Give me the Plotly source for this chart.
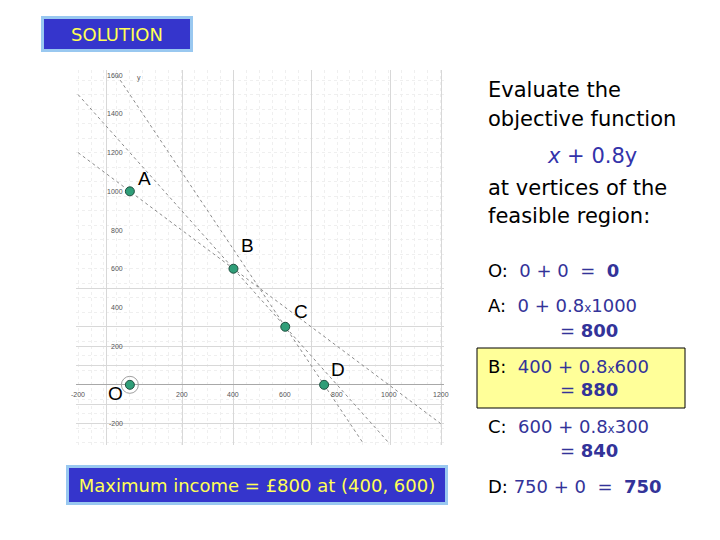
import plotly.graph_objects as go

# ---------------- data ----------------
vertex_names = ["O", "A", "B", "C", "D"]
vertex_x = [0, 0, 400, 600, 750]
vertex_y = [0, 1000, 600, 300, 0]
objective_values = [0, 800, 880, 840, 750]

# constraint boundary lines (endpoints)
line1_x = [-200, 1200]   # x + y = 1000
line1_y = [1200, -200]
line2_x = [-200, 1000]   # 3x + 2y = 2400
line2_y = [1500, -300]
line3_x = [-50, 900]     # 2x + y = 1500
line3_y = [1600, -300]

x_tick_labels = [-200, 200, 400, 600, 800, 1000, 1200]
y_tick_labels = [-200, 200, 400, 600, 800, 1000, 1200, 1400, 1600]

# ---------------- helpers ----------------
W, H = 720, 540
def px(x):
    return x / W
def py(y):
    return 1 - y / H

BLUE_TXT = "#333399"
FONT = "Liberation Sans"
TFONT = "DejaVu Sans"

fig = go.Figure()

for lx, ly in [(line1_x, line1_y), (line2_x, line2_y), (line3_x, line3_y)]:
    fig.add_trace(go.Scatter(x=lx, y=ly, mode="lines",
                             line=dict(color="#8a8a8a", width=1, dash="dot"),
                             hoverinfo="skip", showlegend=False))

# dotted ring around O
fig.add_trace(go.Scatter(x=vertex_x[:1], y=vertex_y[:1], mode="markers",
                         marker=dict(symbol="circle-open", size=17,
                                     color="#a0a0a0", line=dict(width=1)),
                         hoverinfo="skip", showlegend=False))

fig.add_trace(go.Scatter(x=vertex_x, y=vertex_y, mode="markers",
                         marker=dict(size=9, color="#2f9e78",
                                     line=dict(color="#1f4f3f", width=1)),
                         showlegend=False))

label_shift = {"O": (-14, -9), "A": (15, 13), "B": (14, 23), "C": (16, 15), "D": (14, 15)}
for n, x, y in zip(vertex_names, vertex_x, vertex_y):
    dx, dy = label_shift[n]
    fig.add_annotation(x=x, y=y, text=n, showarrow=False, xshift=dx, yshift=dy,
                       font=dict(family=FONT, size=19, color="black"))

# tick labels placed geogebra-style near the axes
for v in x_tick_labels:
    fig.add_annotation(x=v, y=-52, text=str(v), showarrow=False,
                       font=dict(family=FONT, size=7, color="#555"))
for v in y_tick_labels:
    fig.add_annotation(x=-20, y=v, text=str(v), showarrow=False, xanchor="right",
                       font=dict(family=FONT, size=7, color="#555"))
fig.add_annotation(x=35, y=1588, text="y", showarrow=False,
                   font=dict(family=FONT, size=7, color="#555"))

# ---------------- axes ----------------
fig.update_xaxes(domain=[76 / W, 444 / W], range=[-208, 1213],
                 tickmode="array", tickvals=[-90, 205, 400, 700, 1005, 1205],
                 showticklabels=False, ticks="", showgrid=True,
                 gridcolor="#d8d8d8", gridwidth=1, zeroline=False,
                 showline=False,
                 minor=dict(showgrid=True, dtick=50, tick0=0,
                            gridcolor="#efefef", griddash="dot"))
fig.update_yaxes(domain=[py(445), py(70)], range=[-311, 1627],
                 tickmode="array", tickvals=[500, 300, 200, 100, -100, -200],
                 showticklabels=False, ticks="", showgrid=True,
                 gridcolor="#d8d8d8", gridwidth=1, zeroline=True,
                 zerolinecolor="#a8a8a8", zerolinewidth=1, showline=False,
                 minor=dict(showgrid=True, dtick=75, tick0=0,
                            gridcolor="#efefef", griddash="dot"))

# ---------------- text panel ----------------
def ann(x, y, text, size=21, color="black", xanchor="left", **kw):
    fig.add_annotation(xref="paper", yref="paper", x=px(x), y=py(y), text=text,
                       showarrow=False, xanchor=xanchor, yanchor="middle",
                       font=dict(family=TFONT, size=size, color=color), **kw)

ann(486, 90, "Evaluate the")
ann(486, 119, "objective function")
ann(592, 156, "<i>x</i> + 0.8y", color="#3333aa", xanchor="center")
ann(486, 188, "at vertices of the")
ann(486, 216, "feasible region:")

# highlight box for B
fig.add_shape(type="rect", xref="paper", yref="paper",
              x0=px(477), x1=px(685), y0=py(408), y1=py(348),
              fillcolor="#ffff99", line=dict(color="black", width=1), layer="below")

sm = "<span style='font-size:12px'>x</span>"
def b(s):
    return f"<span style='color:{BLUE_TXT}'>{s}</span>"

ann(486, 270, "O:  " + b(f"0 + 0  =  <b>{objective_values[0]}</b>"), size=18)
ann(486, 305, "A:  " + b(f"0 + 0.8{sm}{vertex_y[1]}"), size=18)
ann(558, 330, b(f"= <b>{objective_values[1]}</b>"), size=18)
ann(486, 366, "B:  " + b(f"{vertex_x[2]} + 0.8{sm}{vertex_y[2]}"), size=18)
ann(558, 389, b(f"= <b>{objective_values[2]}</b>"), size=18)
ann(486, 426, "C:  " + b(f"{vertex_x[3]} + 0.8{sm}{vertex_y[3]}"), size=18)
ann(558, 450, b(f"= <b>{objective_values[3]}</b>"), size=18)
ann(486, 486, "D: " + b(f"{vertex_x[4]} + 0  =  <b>{objective_values[4]}</b>"), size=18)

# title and conclusion boxes
fig.add_annotation(xref="paper", yref="paper", x=px(117), y=py(34),
                   text="SOLUTION", showarrow=False, xanchor="center", yanchor="middle",
                   font=dict(family=TFONT, size=18, color="#ffff55"),
                   bgcolor="#3535cc", bordercolor="#99c8f0", borderwidth=3,
                   width=144, height=28)
fig.add_annotation(xref="paper", yref="paper", x=px(257), y=py(485),
                   text="Maximum income = £800 at (400, 600)", showarrow=False,
                   xanchor="center", yanchor="middle",
                   font=dict(family=TFONT, size=18, color="#ffff55"),
                   bgcolor="#3535cc", bordercolor="#99c8f0", borderwidth=3,
                   width=374, height=32)

fig.update_layout(width=W, height=H, margin=dict(l=0, r=0, t=0, b=0),
                  paper_bgcolor="white", plot_bgcolor="white",
                  showlegend=False)

fig.write_html("out.html", config={"displayModeBar": False},
               post_script="document.body.style.margin='0';")
